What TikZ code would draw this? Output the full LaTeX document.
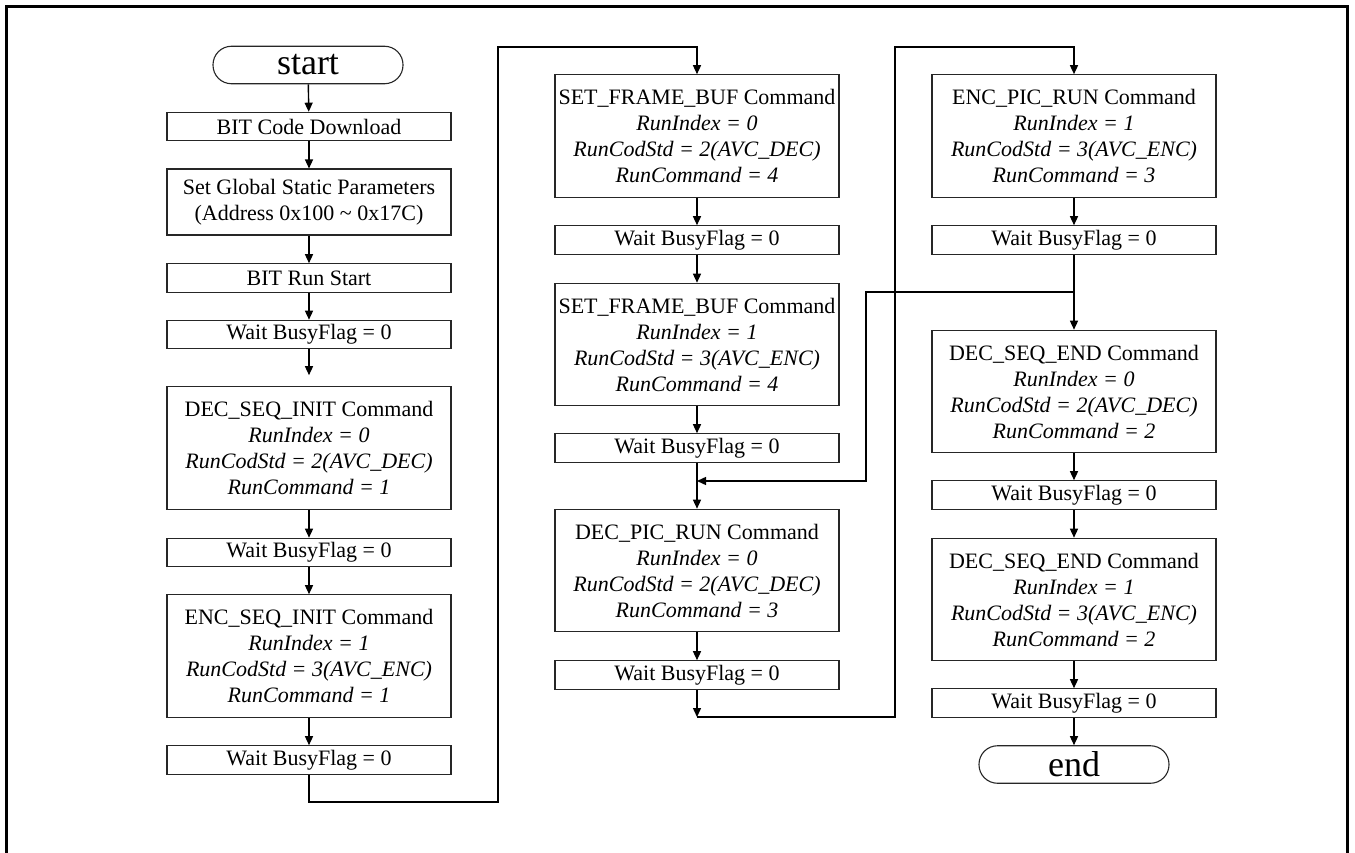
\documentclass[tikz,border=0pt]{standalone}
\usepackage{fontspec}
\setmainfont{Liberation Serif}
\usetikzlibrary{arrows.meta,calc}
\begin{document}
\begin{tikzpicture}[x=1pt,y=-1pt,
  box/.style={draw=black!85, line width=1.1pt, minimum width=284pt, inner sep=0pt, align=center, font=\fontsize{22}{26}\selectfont},
  wbox/.style={box, minimum height=28.5pt},
  cbox/.style={box, minimum height=122.5pt},
  term/.style={draw=black!85, line width=1.1pt, rounded corners=18.5pt, minimum width=190pt, minimum height=37.5pt, inner sep=0pt, font=\fontsize{36}{36}\selectfont},
  arr/.style={draw=black, line width=1.4pt, -{Triangle[length=9pt,width=8pt]}},
  link/.style={draw=black, line width=1.4pt}]
\useasboundingbox (0,0) rectangle (1355,853);
\fill[white] (0,0) rectangle (1355,853);
\draw[line width=3pt] (6,853) -- (6,7) -- (1347,7) -- (1347,853);

% column 1
\node[term] (start) at (308,65) {start};
\node[wbox] (bcd) at (309,126.5) {BIT Code Download};
\node[box, minimum height=66pt] (sgp) at (309,202) {Set Global Static Parameters\\(Address 0x100 \textasciitilde{} 0x17C)};
\node[wbox] (brs) at (309,278) {BIT Run Start};
\node[wbox] (w1) at (309,334.5) {Wait BusyFlag = 0};
\node[cbox] (dsi) at (309,448) {DEC\_SEQ\_INIT Command\\\textit{RunIndex = 0}\\\textit{RunCodStd = 2(AVC\_DEC)}\\\textit{RunCommand = 1}};
\node[wbox] (w2) at (309,552.5) {Wait BusyFlag = 0};
\node[cbox] (esi) at (309,656) {ENC\_SEQ\_INIT Command\\\textit{RunIndex = 1}\\\textit{RunCodStd = 3(AVC\_ENC)}\\\textit{RunCommand = 1}};
\node[wbox] (w3) at (309,760) {Wait BusyFlag = 0};

% column 2
\node[cbox] (sfb1) at (697,136) {SET\_FRAME\_BUF Command\\\textit{RunIndex = 0}\\\textit{RunCodStd = 2(AVC\_DEC)}\\\textit{RunCommand = 4}};
\node[wbox] (w4) at (697,240) {Wait BusyFlag = 0};
\node[cbox] (sfb2) at (697,344.5) {SET\_FRAME\_BUF Command\\\textit{RunIndex = 1}\\\textit{RunCodStd = 3(AVC\_ENC)}\\\textit{RunCommand = 4}};
\node[wbox] (w5) at (697,448) {Wait BusyFlag = 0};
\node[cbox] (dpr) at (697,570.5) {DEC\_PIC\_RUN Command\\\textit{RunIndex = 0}\\\textit{RunCodStd = 2(AVC\_DEC)}\\\textit{RunCommand = 3}};
\node[wbox] (w6) at (697,675) {Wait BusyFlag = 0};

% column 3
\node[cbox] (epr) at (1074,136) {ENC\_PIC\_RUN Command\\\textit{RunIndex = 1}\\\textit{RunCodStd = 3(AVC\_ENC)}\\\textit{RunCommand = 3}};
\node[wbox] (w7) at (1074,240) {Wait BusyFlag = 0};
\node[cbox] (dse1) at (1074,391.5) {DEC\_SEQ\_END Command\\\textit{RunIndex = 0}\\\textit{RunCodStd = 2(AVC\_DEC)}\\\textit{RunCommand = 2}};
\node[wbox] (w8) at (1074,495) {Wait BusyFlag = 0};
\node[cbox] (dse2) at (1074,599.5) {DEC\_SEQ\_END Command\\\textit{RunIndex = 1}\\\textit{RunCodStd = 3(AVC\_ENC)}\\\textit{RunCommand = 2}};
\node[wbox] (w9) at (1074,703) {Wait BusyFlag = 0};
\node[term] (end) at (1074,764.5) {end};

% helper coordinates
\coordinate (ja) at (498,802);
\coordinate (jb) at (498,47);
\coordinate (jc) at (697,717);
\coordinate (jd) at (895,47);
\coordinate (lp) at (1074,292);
\coordinate (lpa) at (866,292);
\coordinate (lpb) at (697,481);

% connectors column 1
\draw[arr] (start) -- (bcd);
\draw[arr] (bcd) -- (sgp);
\draw[arr] (sgp) -- (brs);
\draw[arr] (brs) -- (w1);
\draw[arr, shorten >=11pt] (w1) -- (dsi);
\draw[arr] (dsi) -- (w2);
\draw[arr] (w2) -- (esi);
\draw[arr] (esi) -- (w3);
\draw[arr] (w3.south) |- (ja) -- (jb) -| (sfb1.north);

% connectors column 2
\draw[arr] (sfb1) -- (w4);
\draw[arr] (w4) -- (sfb2);
\draw[arr] (sfb2) -- (w5);
\draw[arr] (w5) -- (dpr);
\draw[arr] (lp) -- (lpa) |- (lpb);
\draw[arr] (dpr) -- (w6);
\draw[arr] (w6) -- (jc);
\draw[arr] (jc) -| (jd) -| (epr.north);

% connectors column 3
\draw[arr] (epr) -- (w7);
\draw[arr] (w7) -- (dse1);
\draw[arr] (dse1) -- (w8);
\draw[arr] (w8) -- (dse2);
\draw[arr] (dse2) -- (w9);
\draw[arr] (w9) -- (end);
\end{tikzpicture}
\end{document}
